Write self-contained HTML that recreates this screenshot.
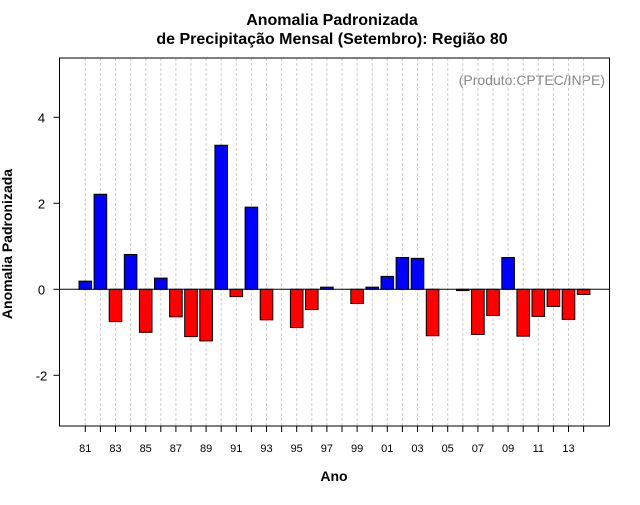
<!DOCTYPE html>
<html><head><meta charset="utf-8"><style>
body{margin:0;background:#fff;font-family:"Liberation Sans",sans-serif}
</style></head><body>
<svg id="c" width="640" height="500" xmlns="http://www.w3.org/2000/svg">
<text x="332" y="25" text-anchor="middle" font-size="16" font-weight="bold">Anomalia Padronizada</text>
<text x="332" y="44" text-anchor="middle" font-size="16" font-weight="bold">de Precipitação Mensal (Setembro): Região 80</text>
<text x="334" y="481" text-anchor="middle" font-size="14" font-weight="bold">Ano</text>
<text transform="translate(12,244) rotate(-90)" text-anchor="middle" font-size="14" font-weight="bold">Anomalia Padronizada</text>
<text x="605" y="85" text-anchor="end" font-size="14" fill="#888">(Produto:CPTEC/INPE)</text>
<g id="grid"></g><g id="bars"></g><g id="axes"></g>
</svg>
<script>
const years=[81,82,83,84,85,86,87,88,89,90,91,92,93,94,95,96,97,98,99,0,1,2,3,4,5,6,7,8,9,10,11,12,13,14];
const values=[0.19,2.21,-0.75,0.81,-1.0,0.26,-0.64,-1.1,-1.2,3.35,-0.17,1.91,-0.71,0,-0.89,-0.47,0.05,0,-0.33,0.05,0.3,0.74,0.72,-1.08,0,-0.03,-1.05,-0.61,0.74,-1.09,-0.63,-0.4,-0.7,-0.12];
const yTicks=[-2,0,2,4];
const NS="http://www.w3.org/2000/svg";
const L=59.5,R=609.5,T=58,B=426;
const xs=i=>85.3+i*15.1;
const ys=v=>289.3-v*43;
function mk(p,tag,a){const e=document.createElementNS(NS,tag);for(const k in a)e.setAttribute(k,a[k]);document.getElementById(p).appendChild(e);return e;}
years.forEach((y,i)=>{
  const g=mk('grid','line',{x1:xs(i),x2:xs(i),y1:T,y2:B,stroke:'#ccc','stroke-dasharray':'3,2'});
  
  
  const v=values[i];
  if(v!==0){
    const y0=ys(Math.max(v,0)),h=Math.abs(ys(v)-ys(0));
    const b=mk('bars','rect',{x:xs(i)-6.3,y:y0,width:12.6,height:Math.max(h,0.8),fill:v>0?'#0000ff':'#ff0000',stroke:'#000','stroke-width':1});
    
    
  }
  const t=mk('axes','line',{x1:xs(i),x2:xs(i),y1:B,y2:B+6,stroke:'#000'});
  
  
  if(i%2===0){
    const lb=mk('axes','text',{x:xs(i),y:B+26,'text-anchor':'middle','font-size':'11'});
    lb.textContent=String(y).padStart(2,'0');
    
    
  }
});
const z=mk('axes','line',{x1:L,x2:R,y1:ys(0),y2:ys(0),stroke:'#000'});


const fr=mk('axes','rect',{x:L,y:T,width:R-L,height:B-T,fill:'none',stroke:'#000'});


yTicks.forEach(v=>{
  const t=mk('axes','line',{x1:L-6,x2:L,y1:ys(v),y2:ys(v),stroke:'#000'});
  
  
  const lb=mk('axes','text',{x:L-18,y:ys(v)+5,'text-anchor':'middle','font-size':'13'});
  lb.textContent=v;
  
  
});
</script>
</body></html>
